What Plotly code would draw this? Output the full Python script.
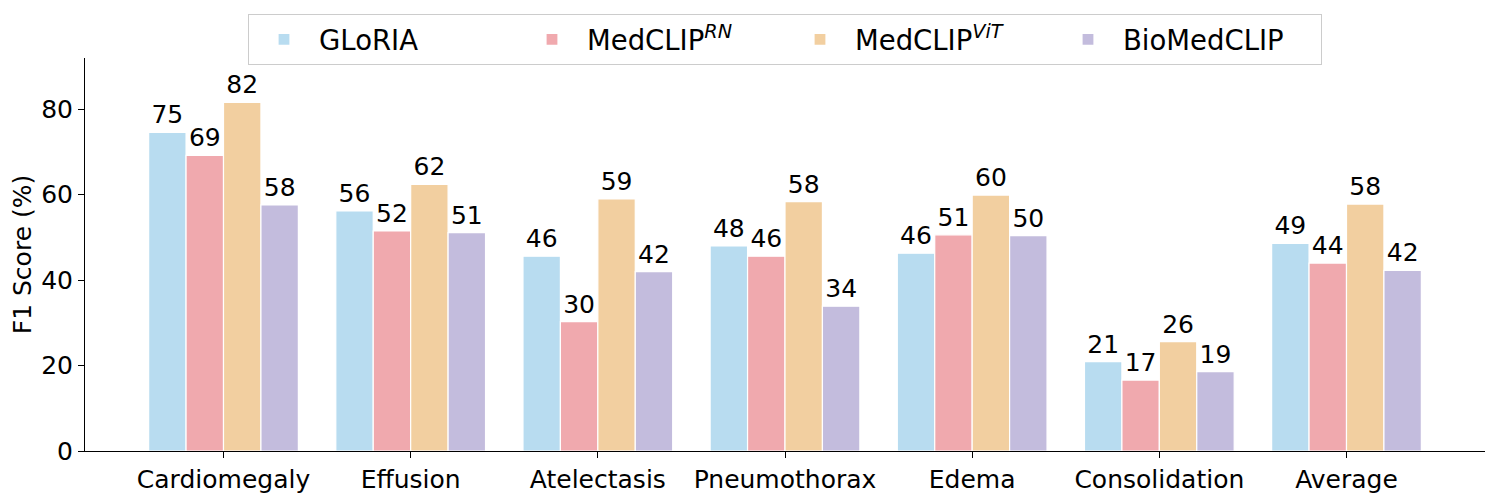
import plotly.graph_objects as go

categories = ["Cardiomegaly", "Effusion", "Atelectasis", "Pneumothorax", "Edema", "Consolidation", "Average"]
gloria = [74.6, 56.2, 45.6, 48.0, 46.3, 20.9, 48.6]
medclip_rn = [69.2, 51.5, 30.3, 45.6, 50.6, 16.6, 44.0]
medclip_vit = [81.6, 62.4, 59.0, 58.4, 59.9, 25.6, 57.8]
biomedclip = [57.6, 51.1, 42.0, 33.9, 50.4, 18.6, 42.3]

series = [
    ("GLoRIA", gloria, "#b8dcf0"),
    ("MedCLIP<sup><i>RN</i></sup>", medclip_rn, "#f0a9ae"),
    ("MedCLIP<sup><i>ViT</i></sup>", medclip_vit, "#f2cfa0"),
    ("BioMedCLIP", biomedclip, "#c3bcdd"),
]

fig = go.Figure()
for name, vals, color in series:
    fig.add_trace(go.Bar(
        x=categories, y=vals, name=name,
        marker=dict(color=color, line=dict(color="white", width=1.2)),
        text=[f"{v:.0f}" for v in vals], textposition="outside",
        textfont=dict(size=25, color="black", family="DejaVu Sans"),
        cliponaxis=False,
    ))

fig.update_layout(
    width=1492, height=492,
    barmode="group", bargap=0.2, bargroupgap=0,
    plot_bgcolor="white", paper_bgcolor="white",
    font=dict(family="DejaVu Sans", size=25, color="black"),
    margin=dict(l=77, r=15, t=50, b=49, autoexpand=False),
    uniformtext=dict(minsize=25, mode="show"),
    legend=dict(
        orientation="h", x=0.5, xanchor="center",
        yref="container", y=0.988, yanchor="top",
        font=dict(size=27.5), bordercolor="#cccccc", borderwidth=1,
        bgcolor="white", itemwidth=60, entrywidth=193,
    ),
    showlegend=True,
)
fig.update_xaxes(
    range=[-0.74, 6.74], showline=True, linecolor="black", linewidth=1,
    ticks="outside", ticklen=6, tickcolor="black", tickfont=dict(size=25),
    showgrid=False, automargin=False,
)
fig.update_yaxes(
    range=[0, 92], showline=True, linecolor="black", linewidth=1,
    ticks="outside", ticklen=6, tickcolor="black", tickfont=dict(size=25),
    tickvals=[0, 20, 40, 60, 80], showgrid=False, zeroline=False,
    title=dict(text="F1 Score (%)", font=dict(size=25), standoff=8),
    automargin=False,
)

fig.write_html("out.html")
